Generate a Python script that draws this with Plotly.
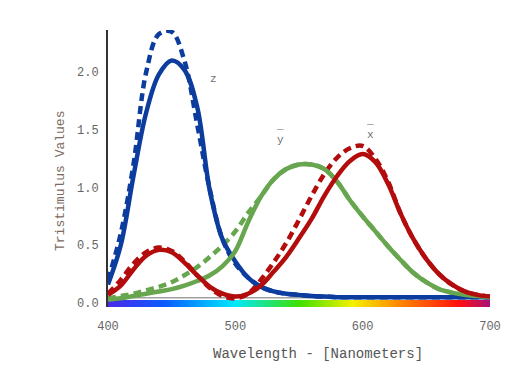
import plotly.graph_objects as go

wavelengths = list(range(400, 701, 10))

# CIE-like colour matching functions (solid) and comparison (dashed)
x_bar = [0.07, 0.15, 0.29, 0.41, 0.46, 0.44, 0.35, 0.24, 0.14, 0.08, 0.055,
         0.08, 0.15, 0.27, 0.40, 0.56, 0.73, 0.93, 1.10, 1.23, 1.29, 1.22,
         1.03, 0.77, 0.55, 0.38, 0.25, 0.16, 0.10, 0.07, 0.055]
x_bar_dash = [0.08, 0.20, 0.34, 0.44, 0.48, 0.45, 0.36, 0.24, 0.13, 0.06, 0.04,
              0.08, 0.20, 0.35, 0.52, 0.72, 0.93, 1.12, 1.26, 1.34, 1.36, 1.25,
              1.05, 0.77, 0.55, 0.38, 0.25, 0.16, 0.10, 0.07, 0.055]
y_bar = [0.03, 0.04, 0.06, 0.08, 0.10, 0.12, 0.15, 0.19, 0.24, 0.32, 0.45,
         0.70, 0.92, 1.07, 1.16, 1.20, 1.20, 1.16, 1.05, 0.89, 0.75, 0.62,
         0.49, 0.37, 0.26, 0.18, 0.12, 0.09, 0.07, 0.06, 0.05]
y_bar_dash = [0.04, 0.06, 0.08, 0.11, 0.14, 0.18, 0.24, 0.31, 0.40, 0.50, 0.62,
              0.78, 0.92, 1.07, 1.16, 1.20, 1.20, 1.16, 1.05, 0.89, 0.75, 0.62,
              0.49, 0.37, 0.26, 0.18, 0.12, 0.09, 0.07, 0.06, 0.05]
z_bar = [0.16, 0.50, 1.10, 1.65, 1.98, 2.10, 2.02, 1.70, 0.97, 0.55, 0.36,
         0.22, 0.14, 0.10, 0.08, 0.07, 0.06, 0.055, 0.05, 0.05, 0.05, 0.05,
         0.05, 0.05, 0.05, 0.05, 0.05, 0.05, 0.05, 0.05, 0.05]
z_bar_dash = [0.20, 0.60, 1.20, 2.00, 2.33, 2.35, 2.10, 1.55, 0.98, 0.55, 0.34,
              0.22, 0.14, 0.10, 0.08, 0.07, 0.06, 0.055, 0.05, 0.05, 0.05, 0.05,
              0.05, 0.05, 0.05, 0.05, 0.05, 0.05, 0.05, 0.05, 0.05]

x_ticks = [400, 500, 600, 700]
y_ticks = [0.0, 0.5, 1.0, 1.5, 2.0]
y_tick_labels = ["0.0", "0.5", "1.0", "1.5", "2.0"]

spectrum_stops = [0.0, 0.15, 0.33, 0.5, 0.64, 0.76, 0.92, 1.0]
spectrum_colors = ["#4a28e8", "#0a5cff", "#00e8ff", "#3ee000", "#f4f000",
                   "#ff8a00", "#ff1010", "#a8107a"]

BLUE = "#0b3c9e"
RED = "#b20c0c"
GREEN = "#67a64e"
MONO = "Liberation Mono, DejaVu Sans Mono, monospace"

fig = go.Figure()

# spectrum bar
fig.add_trace(go.Scatter(
    x=[x_ticks[0], x_ticks[-1], x_ticks[-1], x_ticks[0], x_ticks[0]],
    y=[-0.035, -0.035, 0.025, 0.025, -0.035],
    mode="lines", line=dict(width=0), fill="toself",
    fillgradient=dict(type="horizontal",
                      colorscale=[[s, c] for s, c in zip(spectrum_stops, spectrum_colors)]),
    hoverinfo="skip", showlegend=False))

# baseline
fig.add_trace(go.Scatter(x=[x_ticks[0], x_ticks[-1]], y=[0.045, 0.045], mode="lines",
                         line=dict(color="#a0a0a0", width=1.5), showlegend=False))

dash = "8px,5px"
for vals, col in [(z_bar_dash, BLUE), (y_bar_dash, GREEN), (x_bar_dash, RED)]:
    fig.add_trace(go.Scatter(x=wavelengths, y=vals, mode="lines",
                             line=dict(color=col, width=4.5, dash=dash, shape="spline"),
                             cliponaxis=False, showlegend=False))
for vals, col in [(z_bar, BLUE), (y_bar, GREEN), (x_bar, RED)]:
    fig.add_trace(go.Scatter(x=wavelengths, y=vals, mode="lines",
                             line=dict(color=col, width=4.5, shape="spline"),
                             cliponaxis=False, showlegend=False))

annotations = [
    dict(x=483, y=1.94, text="z", showarrow=False, font=dict(family=MONO, size=11, color="#707070")),
    dict(x=535, y=1.47, text="_<br>y", showarrow=False, font=dict(family=MONO, size=11, color="#707070")),
    dict(x=606, y=1.52, text="_<br>x", showarrow=False, font=dict(family=MONO, size=11, color="#707070")),
    dict(x=0.55, y=-0.135, xref="paper", yref="paper", text="Wavelength - [Nanometers]",
         showarrow=False, yanchor="top", font=dict(family=MONO, size=14, color="#555555")),
    dict(x=-0.123, y=0.455, xref="paper", yref="paper", text="Tristimulus Values", textangle=-90,
         showarrow=False, xanchor="center", font=dict(family=MONO, size=13, color="#7a6a60")),
]

fig.update_layout(
    width=527, height=375,
    margin=dict(l=100, r=45, t=22, b=76),
    paper_bgcolor="white", plot_bgcolor="white",
    showlegend=False,
    annotations=annotations,
    xaxis=dict(range=[400, 700], tickvals=x_ticks, showgrid=False, zeroline=False,
               showline=False, ticks="", ticklabelstandoff=10, automargin=False,
               tickfont=dict(family=MONO, size=12, color="#666666")),
    yaxis=dict(range=[-0.035, 2.365], tickvals=y_ticks, ticktext=y_tick_labels,
               showgrid=False, zeroline=False, showline=True, linecolor="#333333",
               linewidth=2, ticks="", ticklabelstandoff=5, automargin=False,
               tickfont=dict(family=MONO, size=12, color="#666666")),
)

fig.write_html("out.html")
